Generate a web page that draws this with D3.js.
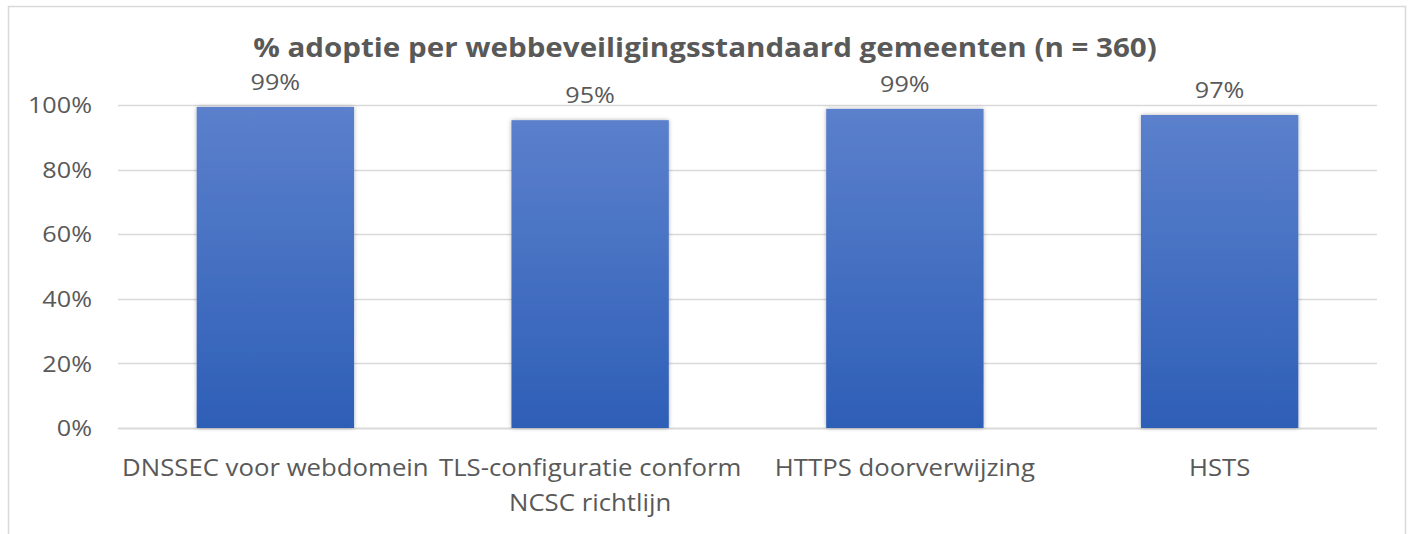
<!DOCTYPE html>
<html>
<head>
<meta charset="utf-8">
<script src="https://cdn.jsdelivr.net/npm/d3@7"></script>
<style>
	body { margin: 0; background: #fff; }
	svg text { font-family: "Open Sans", "Liberation Sans", sans-serif; fill: #595959; }
</style>
</head>
<body>
<svg id="chart" width="1412" height="534"></svg>
<script>
var categories = [
	["DNSSEC voor webdomein"],
	["TLS-configuratie conform", "NCSC richtlijn"],
	["HTTPS doorverwijzing"],
	["HSTS"]
];
var adoption = [99.4, 95.3, 98.8, 96.9];
var valueLabels = ["99%", "95%", "99%", "97%"];
var yTicks = [0, 20, 40, 60, 80, 100];
var title = "% adoptie per webbeveiligingsstandaard gemeenten (n = 360)";

var svg = d3.select("#chart"),
	margin = {left: 118, right: 35, top: 105, bottom: 106},
	width = 1412 - margin.left - margin.right,
	height = 534 - margin.top - margin.bottom,
	stretch = 1.12; // the original picture is a bit wider than tall

// outer frame (bottom edge falls outside the picture)
svg.append("rect")
	.attr("x", 8.5).attr("y", 6.5)
	.attr("width", 1397).attr("height", 560)
	.attr("fill", "none")
	.attr("stroke", "#d9d9d9")
	.attr("stroke-width", 1.5);

var defs = svg.append("defs");
var grad = defs.append("linearGradient")
	.attr("id", "barGrad")
	.attr("x1", 0).attr("y1", 0).attr("x2", 0).attr("y2", 1);
grad.append("stop").attr("offset", "0%").attr("stop-color", "#5b80cc");
grad.append("stop").attr("offset", "100%").attr("stop-color", "#2e5fb7");

var shadow = defs.append("filter").attr("id", "shadow")
	.attr("x", "-10%").attr("y", "-10%").attr("width", "120%").attr("height", "120%");
shadow.append("feDropShadow")
	.attr("dx", 0).attr("dy", 0).attr("stdDeviation", 2)
	.attr("flood-color", "#000").attr("flood-opacity", 0.3);

var g = svg.append("g").attr("transform", "translate(" + margin.left + "," + margin.top + ")");

var x = d3.scaleBand()
	.domain(d3.range(categories.length))
	.range([0, width])
	.paddingInner(0.5)
	.paddingOuter(0.25);
var y = d3.scaleLinear().domain([0, 100]).range([height, 0]);

// gridlines
g.append("g")
	.selectAll("line")
	.data(yTicks)
	.join("line")
		.attr("x1", 0).attr("x2", width)
		.attr("y1", function(d) {return Math.round(y(d)) + 0.5;})
		.attr("y2", function(d) {return Math.round(y(d)) + 0.5;})
		.attr("stroke", "#d9d9d9")
		.attr("stroke-width", function(d) {return d === 0 ? 2 : 1.5;});

// y axis labels
g.append("g")
	.selectAll("text")
	.data(yTicks)
	.join("text")
		.attr("transform", function(d) {
			return "translate(-26," + y(d) + ") scale(" + stretch + ",1)";
		})
		.attr("dy", "0.36em")
		.attr("text-anchor", "end")
		.style("font-size", "22.5px")
		.text(function(d) {return d + "%";});

// bars
g.selectAll(".bar")
	.data(adoption)
	.join("rect")
		.attr("class", "bar")
		.attr("x", function(d, i) {return x(i);})
		.attr("width", x.bandwidth())
		.attr("y", function(d) {return y(d);})
		.attr("height", function(d) {return height - y(d);})
		.attr("fill", "url(#barGrad)")
		.attr("filter", "url(#shadow)");

// value labels
g.selectAll(".val")
	.data(adoption)
	.join("text")
		.attr("class", "val")
		.attr("transform", function(d, i) {
			return "translate(" + (x(i) + x.bandwidth() / 2) + "," + (y(d) - 17) + ") scale(" + stretch + ",1)";
		})
		.attr("text-anchor", "middle")
		.style("font-size", "22.5px")
		.text(function(d, i) {return valueLabels[i];});

// category labels
var cat = g.selectAll(".cat")
	.data(categories)
	.join("text")
		.attr("class", "cat")
		.attr("text-anchor", "middle")
		.attr("transform", function(d, i) {
			return "translate(" + (x(i) + x.bandwidth() / 2) + "," + (height + 48) + ") scale(" + stretch + ",1)";
		})
		.style("font-size", "23px");
cat.selectAll("tspan")
	.data(function(d) {return d;})
	.join("tspan")
		.attr("x", 0)
		.attr("dy", function(d, i) {return i === 0 ? 0 : 35;})
		.text(function(d) {return d;});

// title
svg.append("text")
	.attr("transform", "translate(705,57) scale(1.075,1)")
	.attr("text-anchor", "middle")
	.style("font-size", "27.5px")
	.style("font-weight", "bold")
	.text(title);
</script>
</body>
</html>
